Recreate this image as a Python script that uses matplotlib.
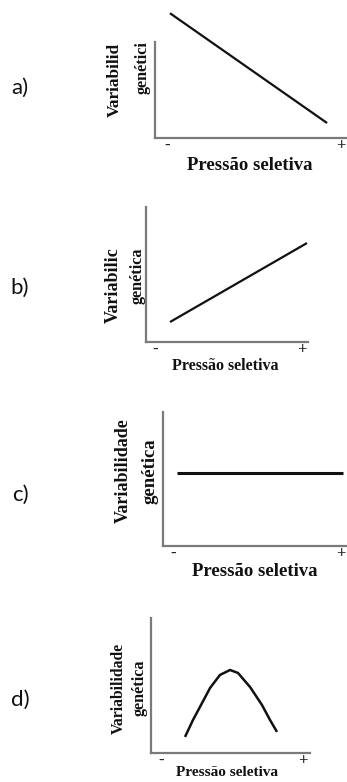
# Four sketches: genetic variability vs selective pressure (a-d).

import matplotlib
matplotlib.use("Agg")
import matplotlib.pyplot as plt

W, H = 347, 782

# ------------------------------------------------------------
# Data (x: 0 = "-", 1 = "+"; y: 0 = x-axis, 1 = top of y-axis)
# ------------------------------------------------------------
panel_letters = ["a)", "b)", "c)", "d)"]
tick_labels = ["-", "+"]
x_label = "Pressão seletiva"
y_label_lines = [
    ["Variabilid", "genétici"],
    ["Variabilic", "genética"],
    ["Variabilidade", "genética"],
    ["Variabilidade", "genética"],
]

a_x = [0.017, 0.920]
a_y = [1.30, 0.156]

b_x = [0.102, 1.034]
b_y = [0.148, 0.733]

c_x = [0.024, 1.012]
c_y = [0.545, 0.545]

d_x = [0.169, 0.225, 0.289, 0.345, 0.415, 0.486, 0.542, 0.627, 0.711, 0.768, 0.817]
d_y = [0.119, 0.244, 0.370, 0.481, 0.578, 0.615, 0.593, 0.489, 0.356, 0.244, 0.156]

series_x = [a_x, b_x, c_x, d_x]
series_y = [a_y, b_y, c_y, d_y]

# ------------------------------------------------------------
# Layout (pixels)
# ------------------------------------------------------------
# axes box: left, right, top, bottom ; tick "-" and "+" x positions
boxes = [
    (155, 347, 42, 138, 167, 341),
    (146, 308, 207, 342, 155, 302),
    (163, 347, 412, 546, 173, 341),
    (151, 310, 618, 753, 161, 303),
]
letter_y = [88, 288, 495, 700]
xlabel_pos = [(250, 165, 13.5), (225, 366, 11.5), (255, 572, 13.5), (227, 772, 11.0)]
ylabel_pos = [
    ((115, 80, 12.5), (143, 68, 11.7)),
    ((113, 285, 13.0), (138, 276, 11.7)),
    ((123, 471, 13.0), (150, 471, 13.5)),
    ((119, 688, 11.3), (140, 688, 11.7)),
]
line_widths = [1.6, 1.6, 2.2, 1.8]

serif = "Liberation Serif"
ink = "#111111"
axis_color = "#7a7a7a"


def fx(px):
    return px / W


def fy(py):
    return 1 - py / H


fig = plt.figure(figsize=(W / 100, H / 100), dpi=100)
fig.patch.set_facecolor("white")

for i in range(4):
    left, right, top, bottom, tick0, tick1 = boxes[i]
    ax = fig.add_axes([fx(left), fy(bottom), (right - left) / W, (bottom - top) / H])
    span = tick1 - tick0
    ax.set_xlim(-(tick0 - left) / span, 1 + (right - tick1) / span)
    ax.set_ylim(0, 1)

    ax.plot(series_x[i], series_y[i], color=ink, lw=line_widths[i],
            solid_capstyle="butt", solid_joinstyle="round", clip_on=False)

    for side in ["top", "right"]:
        ax.spines[side].set_visible(False)
    for side in ["left", "bottom"]:
        ax.spines[side].set_color(axis_color)
        ax.spines[side].set_linewidth(1.6)
    ax.set_yticks([])
    ax.set_xticks([0, 1])
    ax.set_xticklabels(tick_labels, fontfamily=serif, fontweight="bold",
                       fontsize=12, color="#222222")
    ax.tick_params(axis="x", length=0, pad=0)
    ax.set_facecolor("none")

    # letter
    fig.text(fx(20), fy(letter_y[i]), panel_letters[i], fontsize=16,
             fontfamily="Lato", ha="center", va="center", color="#111111")

    # x label
    lx, ly, ls = xlabel_pos[i]
    fig.text(fx(lx), fy(ly), x_label, fontsize=ls, fontfamily=serif,
             fontweight="bold", ha="center", va="center", color=ink)

    # y label (two rotated lines)
    for text, (tx, ty, ts) in zip(y_label_lines[i], ylabel_pos[i]):
        fig.text(fx(tx), fy(ty), text, fontsize=ts, fontfamily=serif,
                 fontweight="bold", rotation=90, ha="center", va="center",
                 color=ink)

fig.savefig("out.png", dpi=100)
